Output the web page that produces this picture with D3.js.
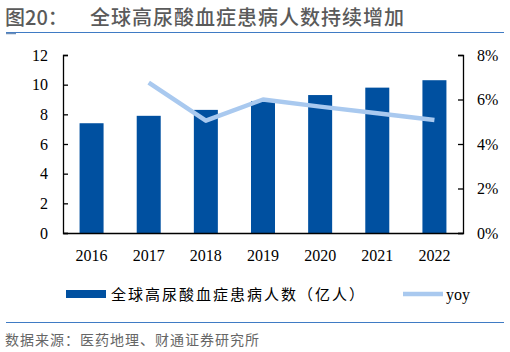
<!DOCTYPE html>
<html>
<head>
<meta charset="utf-8">
<script src="https://cdn.jsdelivr.net/npm/d3@7"></script>
<style>
  body { margin: 0; background: #fff; }
  svg { display: block; }
</style>
</head>
<body>
<div id="chart"></div>
<script>
const years = ['2016', '2017', '2018', '2019', '2020', '2021', '2022'];
const patients = [7.4, 7.9, 8.3, 8.9, 9.3, 9.8, 10.3];
const yoy = [null, 0.0676, 0.0505, 0.060, 0.0568, 0.0538, 0.0508];
const leftTicks = [0, 2, 4, 6, 8, 10, 12];
const rightTicks = [0, 0.02, 0.04, 0.06, 0.08];

const W = 510, H = 352;
const serif = '"Liberation Serif", "Times New Roman", serif';
const cjk = '"Noto Sans CJK SC", sans-serif';

const svg = d3.select('#chart').append('svg')
  .attr('width', W).attr('height', H);

// title
svg.append('text').attr('x', 5).attr('y', 25)
  .attr('font-family', cjk).attr('font-size', 20).attr('font-weight', 500).attr('fill', '#5a5a5a')
  .text('图20：');
svg.append('text').attr('x', 90).attr('y', 25)
  .attr('font-family', cjk).attr('font-size', 20).attr('font-weight', 500).attr('fill', '#5a5a5a')
  .attr('letter-spacing', 1)
  .text('全球高尿酸血症患病人数持续增加');
svg.append('line').attr('x1', 6).attr('x2', 504).attr('y1', 32.5).attr('y2', 32.5)
  .attr('stroke', '#3f7bc4').attr('stroke-width', 1.2);
svg.append('line').attr('x1', 6).attr('x2', 16).attr('y1', 33.5).attr('y2', 33.5)
  .attr('stroke', '#6d8fb8').attr('stroke-width', 1.5);

const plot = {left: 63, right: 463, top: 55, bottom: 233};

const x = d3.scaleBand().domain(years).range([plot.left, plot.right]).paddingInner(0.58).paddingOuter(0.29);
const y = d3.scaleLinear().domain([0, 12]).range([plot.bottom, plot.top]);
const y2 = d3.scaleLinear().domain([0, 0.08]).range([plot.bottom, plot.top]);

// bars
svg.append('g').selectAll('rect').data(patients).join('rect')
  .attr('x', (d, i) => x(years[i]))
  .attr('y', d => y(d))
  .attr('width', x.bandwidth())
  .attr('height', d => plot.bottom - y(d))
  .attr('fill', '#0050a0');

// yoy line
const line = d3.line()
  .defined(d => d != null)
  .x((d, i) => x(years[i]) + x.bandwidth() / 2)
  .y(d => y2(d));
svg.append('path').datum(yoy)
  .attr('d', line)
  .attr('fill', 'none')
  .attr('stroke', '#a9c9ef')
  .attr('stroke-width', 4.5)
  .attr('stroke-linejoin', 'round');

// axes
const axL = svg.append('g').attr('transform', `translate(${plot.left},0)`)
  .call(d3.axisRight(y).tickValues(leftTicks).tickSize(5).tickFormat(d3.format('d')));
axL.selectAll('text').attr('x', -15).attr('text-anchor', 'end');

const axR = svg.append('g').attr('transform', `translate(${plot.right},0)`)
  .call(d3.axisLeft(y2).tickValues(rightTicks).tickSize(5).tickFormat(d3.format('.0%')));
axR.selectAll('text').attr('x', 14).attr('text-anchor', 'start');

const axB = svg.append('g').attr('transform', `translate(0,${plot.bottom})`)
  .call(d3.axisBottom(x).tickSize(0).tickPadding(17));

[axL, axR, axB].forEach(a => {
  a.selectAll('text').attr('font-family', serif).attr('font-size', 16).attr('fill', '#000');
  a.selectAll('path, line').attr('stroke', '#000').attr('stroke-width', 1.3);
});

// legend
svg.append('rect').attr('x', 66).attr('y', 290).attr('width', 40).attr('height', 8).attr('fill', '#0050a0');
svg.append('text').attr('x', 111).attr('y', 300)
  .attr('font-family', cjk).attr('font-size', 15).attr('fill', '#000')
  .attr('letter-spacing', 2)
  .text('全球高尿酸血症患病人数（亿人）');
svg.append('line').attr('x1', 403).attr('x2', 443).attr('y1', 294).attr('y2', 294)
  .attr('stroke', '#a9c9ef').attr('stroke-width', 4.5);
svg.append('text').attr('x', 446).attr('y', 300)
  .attr('font-family', serif).attr('font-size', 16).attr('fill', '#000')
  .text('yoy');

// footer
svg.append('line').attr('x1', 6).attr('x2', 504).attr('y1', 322.5).attr('y2', 322.5)
  .attr('stroke', '#3f7bc4').attr('stroke-width', 1.2);
svg.append('text').attr('x', 5).attr('y', 345)
  .attr('font-family', cjk).attr('font-size', 14).attr('fill', '#666')
  .attr('letter-spacing', 1)
  .text('数据来源：医药地理、财通证券研究所');
</script>
</body>
</html>
